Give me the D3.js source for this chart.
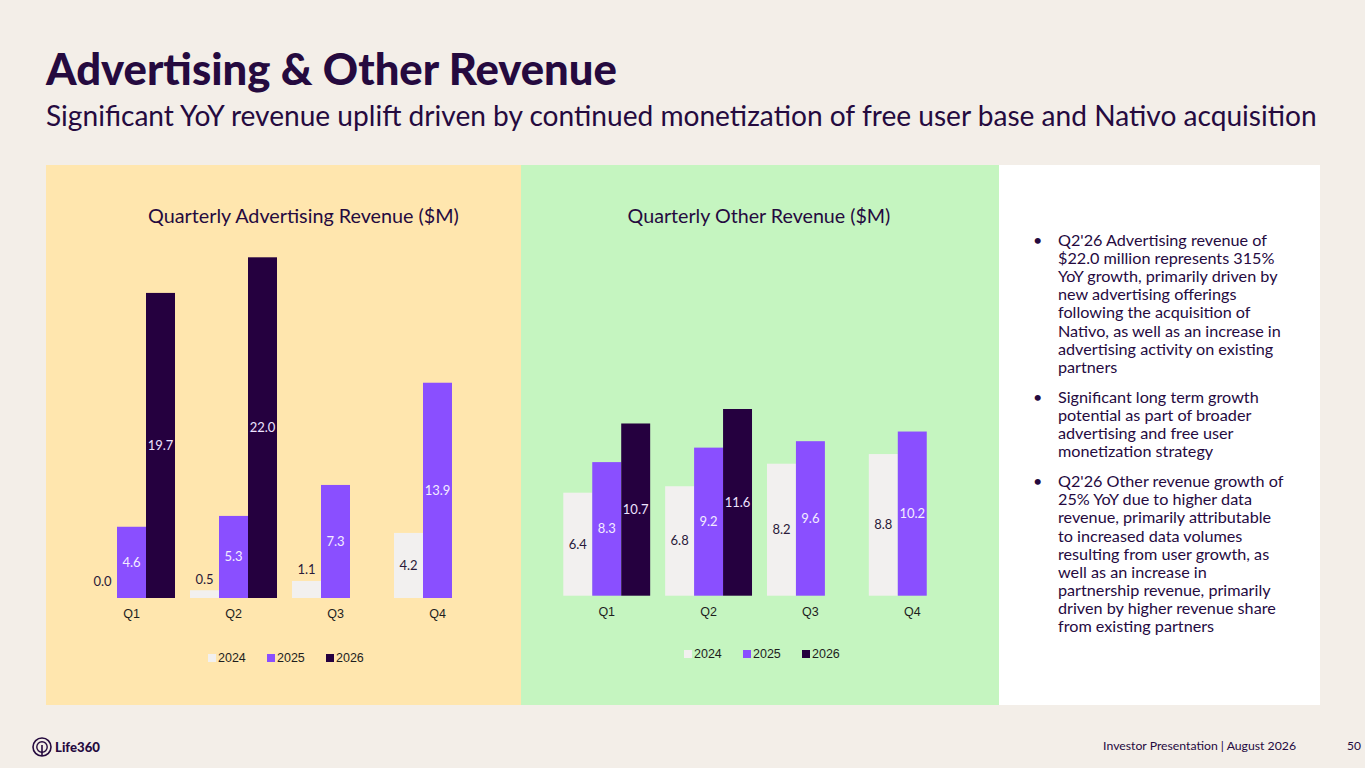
<!DOCTYPE html>
<html>
<head>
<meta charset="utf-8">
<script src="https://cdn.jsdelivr.net/npm/d3@7/dist/d3.min.js"></script>
<style>
  html, body { margin: 0; padding: 0; background: #F3EEE8; }
  svg { display: block; }
</style>
</head>
<body>
<svg id="chart" width="1365" height="768"></svg>
<script>
// ---------- data ----------
const quarters = ["Q1", "Q2", "Q3", "Q4"];
const years = ["2024", "2025", "2026"];
const adRevenue2024 = [0.0, 0.5, 1.1, 4.2];
const adRevenue2025 = [4.6, 5.3, 7.3, 13.9];
const adRevenue2026 = [19.7, 22.0, null, null];
const otherRevenue2024 = [6.4, 6.8, 8.2, 8.8];
const otherRevenue2025 = [8.3, 9.2, 9.6, 10.2];
const otherRevenue2026 = [10.7, 11.6, null, null];
const bullets = [
  ["Q2'26 Advertising revenue of", "$22.0 million represents 315%", "YoY growth, primarily driven by",
   "new advertising offerings", "following the acquisition of", "Nativo, as well as an increase in",
   "advertising activity on existing", "partners"],
  ["Significant long term growth", "potential as part of broader", "advertising and free user",
   "monetization strategy"],
  ["Q2'26 Other revenue growth of", "25% YoY due to higher data", "revenue, primarily attributable",
   "to increased data volumes", "resulting from user growth, as", "well as an increase in",
   "partnership revenue, primarily", "driven by higher revenue share", "from existing partners"]
];

const colors = { "2024": "#F2F0EF", "2025": "#8A4FFF", "2026": "#25003F" };
const labelColors = { "2024": "#2A1A3A", "2025": "#F3ECFF", "2026": "#EDE3FF" };
const ink = "#250A3F";
const FONT = "Lato, 'Open Sans', sans-serif";

const svg = d3.select("#chart");
svg.append("rect").attr("width", 1365).attr("height", 768).attr("fill", "#F3EEE8");

// scale a text's font-size so that it spans a given width
function fitWidth(sel, target) {
  const node = sel.node();
  const fs = parseFloat(sel.attr("font-size"));
  const w = node.getComputedTextLength();
  if (w > 0) sel.attr("font-size", fs * target / w);
  return sel;
}

// Title
fitWidth(svg.append("text").attr("x", 46).attr("y", 85)
  .attr("font-family", FONT).attr("font-weight", 900)
  .attr("font-size", 40).attr("fill", ink).text("Advertising & Other Revenue"), 571);
fitWidth(svg.append("text").attr("x", 46).attr("y", 126)
  .attr("font-family", FONT).attr("font-weight", 400)
  .attr("font-size", 25.6).attr("fill", ink)
  .text("Significant YoY revenue uplift driven by continued monetization of free user base and Nativo acquisition"), 1271);

// Panels
svg.append("rect").attr("x", 46).attr("y", 165).attr("width", 475).attr("height", 540).attr("fill", "#FFE6AE");
svg.append("rect").attr("x", 521).attr("y", 165).attr("width", 478).attr("height", 540).attr("fill", "#C5F5C0");
svg.append("rect").attr("x", 999).attr("y", 165).attr("width", 321).attr("height", 540).attr("fill", "#FFFFFF");

function drawChart(cfg) {
  const g = svg.append("g");
  fitWidth(g.append("text").attr("x", cfg.titleX).attr("y", 223).attr("text-anchor", "middle")
    .attr("font-family", FONT).attr("font-size", 17.5)
    .attr("fill", ink).text(cfg.title), cfg.titleW);

  const x0 = d3.scaleBand().domain(quarters).range(cfg.xRange).paddingInner(0.147).paddingOuter(0);
  const x1 = d3.scaleBand().domain(years).range([0, x0.bandwidth()]).padding(0);
  const y = d3.scaleLinear().domain(cfg.yDomain).range(cfg.yRange);

  const rows = [];
  quarters.forEach((q, i) => {
    years.forEach(yr => {
      const v = cfg.series[yr][i];
      if (v !== null && v !== undefined) rows.push({ q, yr, v });
    });
  });

  const base = y(0);
  g.selectAll("rect.bar").data(rows).join("rect").attr("class", "bar")
    .attr("x", d => x0(d.q) + x1(d.yr))
    .attr("width", x1.bandwidth())
    .attr("y", d => y(d.v))
    .attr("height", d => base - y(d.v))
    .attr("fill", d => colors[d.yr]);

  g.selectAll("text.val").data(rows).join("text").attr("class", "val")
    .attr("x", d => x0(d.q) + x1(d.yr) + x1.bandwidth() / 2)
    .attr("y", d => {
      const top = y(d.v), h = base - top;
      const cy = h < 22 ? Math.min(top - 11, base - 17) : top + h / 2;
      return cy + 4.5;
    })
    .attr("text-anchor", "middle")
    .attr("font-family", FONT).attr("font-size", 13)
    .attr("fill", d => (base - y(d.v) < 22) ? "#2A1A3A" : labelColors[d.yr])
    .text(d => d3.format(".1f")(d.v));

  const axis = d3.axisBottom(x0).tickSize(0).tickPadding(0);
  const ag = g.append("g").attr("transform", `translate(${x1.bandwidth() / 2 - x0.bandwidth() / 2 + x1.bandwidth()},${base})`).call(axis);
  ag.select(".domain").remove();
  ag.selectAll("text").attr("y", 20).attr("font-family", "'Liberation Sans', Arial, sans-serif")
    .attr("font-size", 12.5).attr("fill", "#1E1E1E").attr("dy", 0);

  // legend
  const lg = g.append("g").attr("transform", `translate(${cfg.legendX},${cfg.legendY})`);
  years.forEach((yr, i) => {
    const it = lg.append("g").attr("transform", `translate(${i * 59},0)`);
    it.append("rect").attr("x", 0).attr("y", -8).attr("width", 8).attr("height", 8).attr("fill", colors[yr]);
    it.append("text").attr("x", 10).attr("y", 0).attr("font-family", "'Liberation Sans', Arial, sans-serif")
      .attr("font-size", 12.5).attr("fill", "#1E1E1E").text(yr);
  });
}

drawChart({
  title: "Quarterly Advertising Revenue ($M)", titleX: 303.5, titleW: 311,
  xRange: [88, 481], yDomain: [0, 22], yRange: [598, 257.3],
  series: { "2024": adRevenue2024, "2025": adRevenue2025, "2026": adRevenue2026 },
  legendX: 208, legendY: 662
});
drawChart({
  title: "Quarterly Other Revenue ($M)", titleX: 759, titleW: 263,
  xRange: [563.3, 955.7], yDomain: [0, 11.6], yRange: [595.7, 409],
  series: { "2024": otherRevenue2024, "2025": otherRevenue2025, "2026": otherRevenue2026 },
  legendX: 684, legendY: 658
});

// Bullets
const bg = svg.append("g").attr("font-family", FONT).attr("font-size", 14.5).attr("fill", ink);
// size the body text so that the reference line "Nativo, as well as..." spans 223px
const probe = bg.append("text").attr("x", -999).attr("y", -999).attr("font-size", 14.5).text(bullets[0][5]);
fitWidth(probe, 223);
const bodySize = parseFloat(probe.attr("font-size"));
probe.remove();
bg.attr("font-size", bodySize);
let ly = 246;
bullets.forEach(par => {
  bg.append("text").attr("x", 1033).attr("y", ly).text("•");
  par.forEach(line => {
    bg.append("text").attr("x", 1058).attr("y", ly).text(line);
    ly += 18.1;
  });
  ly += 12;
});

// Footer
const logo = svg.append("g").attr("transform", "translate(42,747)");
logo.append("circle").attr("r", 9).attr("fill", "none").attr("stroke", ink).attr("stroke-width", 1.6);
logo.append("circle").attr("r", 5.2).attr("fill", "none").attr("stroke", ink).attr("stroke-width", 1.4);
logo.append("line").attr("x1", 0).attr("y1", -2).attr("x2", 0).attr("y2", 9).attr("stroke", ink).attr("stroke-width", 1.6);
fitWidth(svg.append("text").attr("x", 55).attr("y", 752).attr("font-family", FONT).attr("font-weight", 900)
  .attr("font-size", 14).attr("fill", ink).text("Life360"), 45);
fitWidth(svg.append("text").attr("x", 1296).attr("y", 750).attr("text-anchor", "end")
  .attr("font-family", FONT).attr("font-size", 11.5).attr("fill", ink)
  .text("Investor Presentation  |  August 2026"), 193);
svg.append("text").attr("x", 1361).attr("y", 750).attr("text-anchor", "end")
  .attr("font-family", FONT).attr("font-size", 12).attr("fill", ink).text("50");
</script>
</body>
</html>
